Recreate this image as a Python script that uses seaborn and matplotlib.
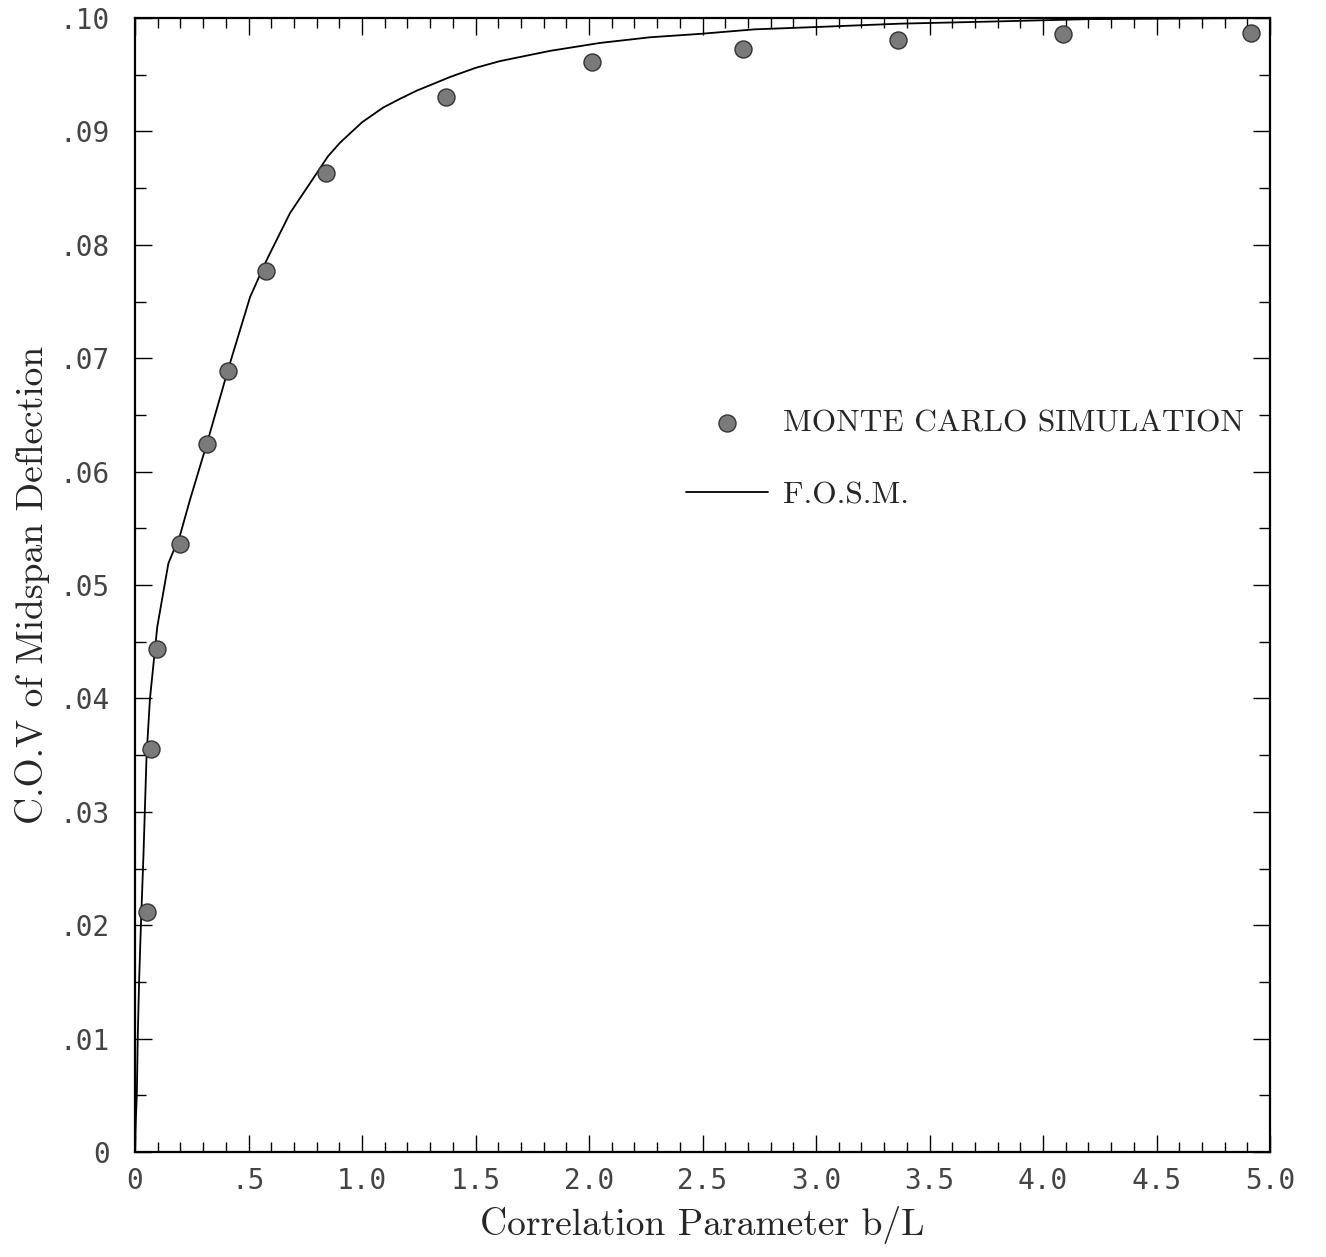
import numpy as np
import pandas as pd
import matplotlib
matplotlib.use("Agg")
import matplotlib.pyplot as plt
import seaborn as sns
from matplotlib.ticker import MultipleLocator, FixedLocator

# Monte Carlo simulation points (b/L, C.O.V)
mc_x = [0.051, 0.070, 0.097, 0.198, 0.317, 0.410, 0.577, 0.841, 1.370, 2.013, 2.678, 3.361, 4.086, 4.917]
mc_y = [0.0212, 0.0355, 0.0444, 0.0536, 0.0624, 0.0689, 0.0777, 0.0863, 0.0930, 0.0961, 0.0973, 0.0981, 0.0986, 0.0987]

# F.O.S.M. curve
fosm_x = [0.0, 0.004, 0.008, 0.012, 0.018, 0.026, 0.037, 0.051, 0.066, 0.098, 0.147, 0.20, 0.242,
          0.32, 0.41, 0.507, 0.581, 0.683, 0.80, 0.85, 0.903, 1.0, 1.093, 1.17, 1.242, 1.388, 1.50, 1.608,
          1.828, 2.048, 2.269, 2.489, 2.73, 2.996, 3.37, 3.8, 4.2, 5.0]
fosm_y = [0.0, 0.003, 0.005, 0.010, 0.015, 0.020, 0.026, 0.035, 0.040, 0.0463, 0.0519, 0.0545, 0.0575,
          0.0627, 0.0690, 0.0754, 0.0787, 0.0828, 0.0863, 0.0878, 0.0890, 0.0908, 0.0921, 0.0929, 0.0936,
          0.0948, 0.0956, 0.0962, 0.0971, 0.0978, 0.0983, 0.0986, 0.0990, 0.0992, 0.0995, 0.0997, 0.0999, 0.1000]

x_ticks = [0, 0.5, 1.0, 1.5, 2.0, 2.5, 3.0, 3.5, 4.0, 4.5, 5.0]
x_ticklabels = ["0", ".5", "1.0", "1.5", "2.0", "2.5", "3.0", "3.5", "4.0", "4.5", "5.0"]
y_ticks = [0, 0.01, 0.02, 0.03, 0.04, 0.05, 0.06, 0.07, 0.08, 0.09, 0.10]
y_ticklabels = ["0", ".01", ".02", ".03", ".04", ".05", ".06", ".07", ".08", ".09", ".10"]

mc_df = pd.DataFrame({"x": mc_x, "y": mc_y})
fosm_df = pd.DataFrame({"x": fosm_x, "y": fosm_y})

sns.set_theme(style="ticks")
plt.rcParams["font.family"] = ["DejaVu Sans"]

fig = plt.figure(figsize=(13.26, 12.57), dpi=100)
ax = fig.add_axes([135 / 1326, 1 - 1152 / 1257, (1270 - 135) / 1326, (1152 - 18) / 1257])

sns.lineplot(data=fosm_df, x="x", y="y", ax=ax, color="black", linewidth=1.3,
             label="F.O.S.M.", sort=False, estimator=None)
sns.scatterplot(data=mc_df, x="x", y="y", ax=ax, s=150, color="#7a7a7a",
                edgecolor="#333333", linewidth=1.0, zorder=5, label="MONTE CARLO SIMULATION")

ax.set_xlim(0, 5.0)
ax.set_ylim(0, 0.10)
ax.xaxis.set_major_locator(FixedLocator(x_ticks))
ax.set_xticklabels(x_ticklabels)
ax.xaxis.set_minor_locator(MultipleLocator(0.1))
ax.yaxis.set_major_locator(FixedLocator(y_ticks))
ax.set_yticklabels(y_ticklabels)
ax.yaxis.set_minor_locator(MultipleLocator(0.005))

ax.tick_params(axis="both", which="both", direction="in", top=True, right=True,
               color="black", width=1.0)
ax.tick_params(axis="x", which="major", length=12, pad=11, labelsize=20, labelcolor="#444444")
ax.tick_params(axis="x", which="minor", length=7)
ax.tick_params(axis="y", which="major", length=12, pad=18, labelsize=20, labelcolor="#444444")
ax.tick_params(axis="y", which="minor", length=8)
for lab in ax.get_xticklabels() + ax.get_yticklabels():
    lab.set_family("DejaVu Sans Mono")
    lab.set_fontweight("light")

for sp in ax.spines.values():
    sp.set_linewidth(1.6)
    sp.set_color("black")

ax.set_xlabel("Correlation Parameter b/L", fontfamily="cmr10", fontsize=27, labelpad=8)
ax.set_ylabel("C.O.V of Midspan Deflection", fontfamily="cmr10", fontsize=27, labelpad=7)

handles, labels = ax.get_legend_handles_labels()
order = [labels.index("MONTE CARLO SIMULATION"), labels.index("F.O.S.M.")]
leg = ax.legend([handles[i] for i in order], [labels[i] for i in order],
                loc="upper left", bbox_to_anchor=(0.4855, 0.655), frameon=False,
                prop={"family": "cmr10", "size": 22.6}, handlelength=2.6,
                handletextpad=0.5, labelspacing=1.4, borderpad=0, borderaxespad=0)

fig.savefig("out.png", dpi=100, facecolor="white")
